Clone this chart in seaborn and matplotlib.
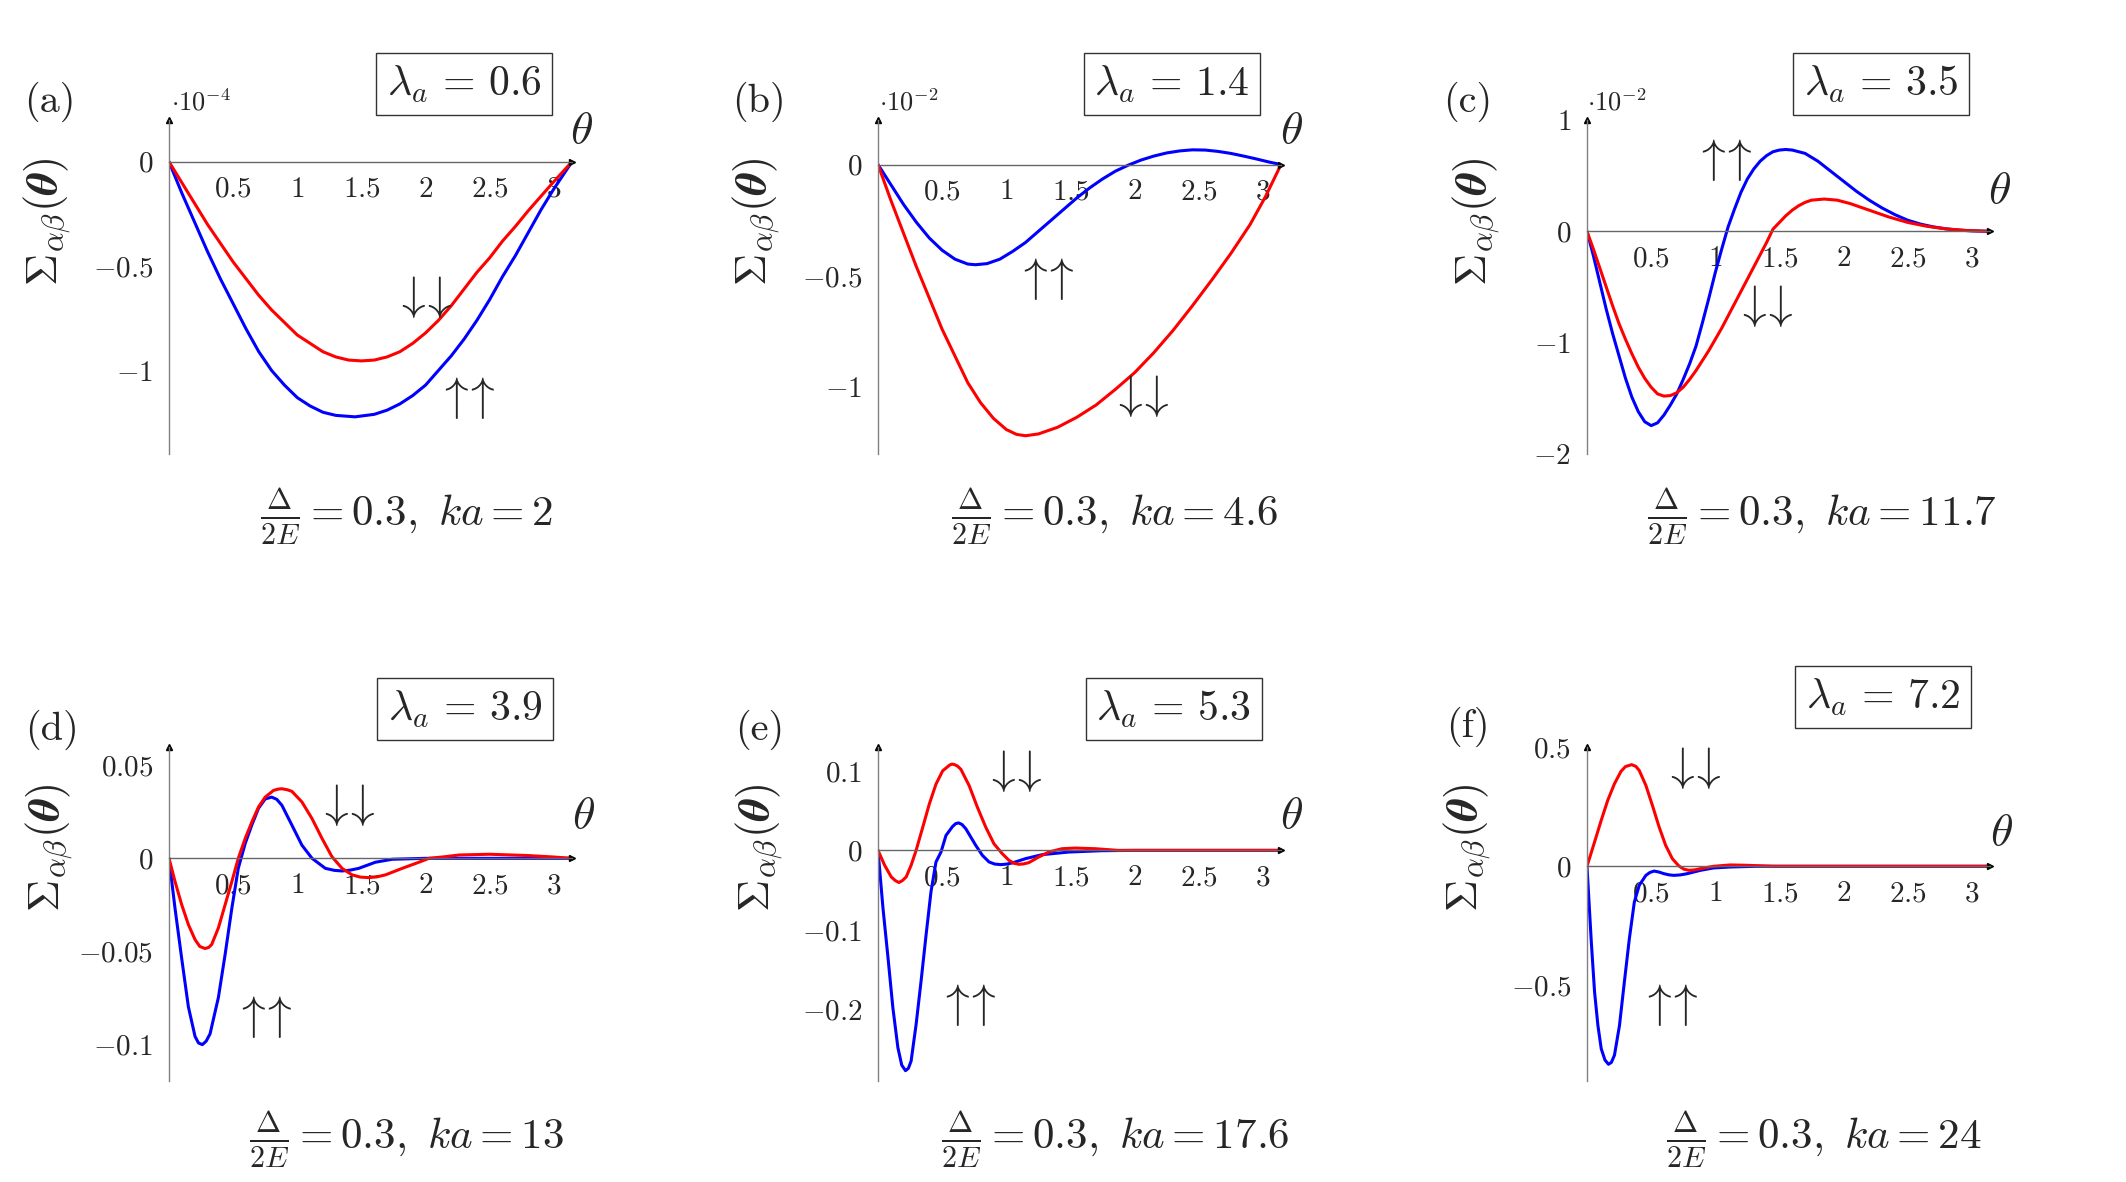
import numpy as np
import matplotlib
matplotlib.use('Agg')
import matplotlib.pyplot as plt
import seaborn as sns

# ---------------- data ----------------
# (a) lambda_a = 0.6, ka = 2, values in units of 1e-4
th_a_up = [0, 0.1, 0.2, 0.3, 0.4, 0.5, 0.6, 0.7, 0.8, 0.9, 1.0, 1.1, 1.2, 1.3, 1.45, 1.6, 1.7,
           1.8, 1.9, 2.0, 2.1, 2.2, 2.3, 2.4, 2.5, 2.6, 2.7, 2.8, 2.9, 3.0, 3.1416]
s_a_up = [0, -0.15, -0.29, -0.43, -0.56, -0.68, -0.80, -0.91, -1.00, -1.07, -1.13, -1.17, -1.20,
          -1.215, -1.222, -1.21, -1.19, -1.16, -1.12, -1.07, -1.00, -0.93, -0.85, -0.76, -0.66,
          -0.55, -0.45, -0.34, -0.23, -0.13, 0]
th_a_dn = [0, 0.1, 0.2, 0.3, 0.4, 0.5, 0.6, 0.7, 0.8, 0.9, 1.0, 1.1, 1.2, 1.3, 1.4, 1.5, 1.6, 1.7,
           1.8, 1.9, 2.0, 2.1, 2.2, 2.3, 2.4, 2.5, 2.6, 2.7, 2.8, 2.9, 3.0, 3.1416]
s_a_dn = [0, -0.10, -0.20, -0.30, -0.39, -0.48, -0.56, -0.64, -0.71, -0.77, -0.83, -0.87, -0.91,
          -0.935, -0.95, -0.954, -0.95, -0.935, -0.91, -0.87, -0.82, -0.76, -0.69, -0.61, -0.53,
          -0.46, -0.38, -0.31, -0.235, -0.165, -0.095, 0]

# (b) lambda_a = 1.4, ka = 4.6, values in units of 1e-2
th_b_up = [0, 0.1, 0.2, 0.3, 0.4, 0.5, 0.6, 0.7, 0.76, 0.85, 0.95, 1.05, 1.15, 1.25, 1.35, 1.45,
           1.55, 1.65, 1.75, 1.85, 1.95, 2.05, 2.15, 2.25, 2.35, 2.45, 2.55, 2.65, 2.75, 2.85,
           2.95, 3.05, 3.1416]
s_b_up = [0, -0.09, -0.18, -0.26, -0.33, -0.385, -0.425, -0.447, -0.45, -0.445, -0.425, -0.39,
          -0.35, -0.30, -0.25, -0.20, -0.15, -0.105, -0.065, -0.03, -0.003, 0.02, 0.038, 0.052,
          0.061, 0.066, 0.065, 0.059, 0.050, 0.038, 0.025, 0.011, 0]
th_b_dn = [0, 0.1, 0.2, 0.3, 0.4, 0.5, 0.6, 0.7, 0.8, 0.9, 1.0, 1.08, 1.15, 1.25, 1.4, 1.55, 1.7,
           1.85, 2.0, 2.15, 2.3, 2.45, 2.6, 2.75, 2.9, 3.02, 3.1416]
s_b_dn = [0, -0.16, -0.31, -0.46, -0.60, -0.74, -0.86, -0.98, -1.07, -1.14, -1.19, -1.212,
          -1.218, -1.21, -1.18, -1.135, -1.08, -1.01, -0.935, -0.845, -0.745, -0.635, -0.52,
          -0.40, -0.27, -0.145, 0]

# (c) lambda_a = 3.5, ka = 11.7, values in units of 1e-2
th_c_up = [0, 0.05, 0.1, 0.15, 0.2, 0.25, 0.3, 0.35, 0.4, 0.45, 0.5, 0.55, 0.6, 0.65, 0.7, 0.75,
           0.8, 0.85, 0.9, 0.95, 1.0, 1.05, 1.1, 1.15, 1.2, 1.25, 1.3, 1.35, 1.4, 1.45, 1.5, 1.55,
           1.6, 1.7, 1.8, 1.9, 2.0, 2.1, 2.2, 2.3, 2.4, 2.5, 2.6, 2.7, 2.8, 2.9, 3.0, 3.1416]
s_c_up = [0, -0.22, -0.46, -0.70, -0.92, -1.12, -1.32, -1.49, -1.62, -1.71, -1.745, -1.72, -1.65,
          -1.56, -1.46, -1.33, -1.19, -1.03, -0.82, -0.60, -0.37, -0.16, 0.04, 0.20, 0.35, 0.47,
          0.56, 0.63, 0.68, 0.715, 0.73, 0.735, 0.73, 0.70, 0.63, 0.54, 0.45, 0.36, 0.28, 0.21,
          0.15, 0.10, 0.065, 0.04, 0.022, 0.011, 0.004, 0]
th_c_dn = [0, 0.05, 0.1, 0.15, 0.2, 0.25, 0.3, 0.35, 0.4, 0.45, 0.5, 0.55, 0.6, 0.65, 0.7, 0.75,
           0.8, 0.85, 0.9, 0.95, 1.0, 1.05, 1.1, 1.15, 1.2, 1.25, 1.3, 1.35, 1.4, 1.45, 1.5, 1.55,
           1.6, 1.65, 1.7, 1.75, 1.85, 1.95, 2.05, 2.2, 2.35, 2.5, 2.65, 2.8, 2.95, 3.1416]
s_c_dn = [0, -0.16, -0.33, -0.50, -0.67, -0.83, -0.97, -1.10, -1.22, -1.32, -1.40, -1.46, -1.48,
          -1.475, -1.45, -1.40, -1.33, -1.25, -1.16, -1.07, -0.97, -0.87, -0.76, -0.65, -0.54,
          -0.43, -0.32, -0.21, -0.10, 0.02, 0.08, 0.14, 0.19, 0.23, 0.26, 0.28, 0.29, 0.28, 0.25,
          0.19, 0.13, 0.08, 0.045, 0.022, 0.008, 0]

# (d) lambda_a = 3.9, ka = 13
th_d_up = [0, 0.047, 0.099, 0.151, 0.203, 0.23, 0.26, 0.29, 0.32, 0.385, 0.4375, 0.49, 0.54,
           0.594, 0.646, 0.698, 0.75, 0.80, 0.84, 0.88, 0.958, 1.036, 1.115, 1.219, 1.29, 1.349,
           1.41, 1.479, 1.609, 1.74, 2.0, 2.5, 3.1416]
s_d_up = [0, -0.027, -0.054, -0.080, -0.096, -0.0995, -0.1004, -0.0985, -0.0946, -0.075,
          -0.0518, -0.0268, -0.0054, 0.008, 0.018, 0.027, 0.032, 0.033, 0.0318, 0.0286, 0.0179,
          0.0071, 0.0, -0.0054, -0.0065, -0.0068, -0.0064, -0.0054, -0.0021, -0.0005, 0, 0, 0]
th_d_dn = [0, 0.047, 0.099, 0.151, 0.203, 0.24, 0.281, 0.31, 0.333, 0.385, 0.4375, 0.49, 0.54,
           0.594, 0.646, 0.698, 0.75, 0.815, 0.85, 0.88, 0.92, 0.958, 1.036, 1.115, 1.193, 1.27,
           1.349, 1.427, 1.49, 1.557, 1.62, 1.688, 1.818, 1.948, 2.026, 2.156, 2.26, 2.5, 2.8,
           3.0, 3.1416]
s_d_dn = [0, -0.0125, -0.025, -0.0357, -0.0438, -0.0475, -0.0486, -0.048, -0.0464, -0.0375,
          -0.025, -0.0125, 0, 0.0107, 0.0196, 0.0277, 0.033, 0.0366, 0.0373, 0.0375, 0.0370,
          0.0361, 0.0304, 0.0214, 0.0107, 0.0009, -0.0054, -0.0089, -0.0101, -0.0104, -0.0100,
          -0.0089, -0.0054, -0.0021, 0, 0.0009, 0.0018, 0.0022, 0.0015, 0.0007, 0]

# (e) lambda_a = 5.3, ka = 17.6
th_e_up = [0, 0.039, 0.078, 0.116, 0.155, 0.185, 0.2145, 0.237, 0.258, 0.297, 0.336, 0.375,
           0.413, 0.452, 0.491, 0.53, 0.581, 0.605, 0.628, 0.655, 0.685, 0.762, 0.814, 0.866,
           0.91, 0.956, 1.0, 1.047, 1.15, 1.279, 1.486, 1.744, 2.0, 3.1416]
s_e_up = [0, -0.073, -0.135, -0.198, -0.248, -0.270, -0.277, -0.274, -0.265, -0.219, -0.164,
          -0.106, -0.0521, -0.0146, -0.0021, 0.0188, 0.030, 0.0336, 0.0346, 0.0325, 0.0271,
          0.0063, -0.0063, -0.0146, -0.0172, -0.0179, -0.0173, -0.0158, -0.0104, -0.0054,
          -0.0021, -0.0004, 0, 0]
th_e_dn = [0, 0.052, 0.103, 0.135, 0.163, 0.19, 0.22, 0.258, 0.297, 0.349, 0.40, 0.452, 0.504,
           0.556, 0.575, 0.594, 0.62, 0.646, 0.711, 0.775, 0.84, 0.904, 0.969, 1.021, 1.06,
           1.098, 1.135, 1.176, 1.253, 1.331, 1.434, 1.537, 1.693, 1.873, 3.1416]
s_e_dn = [0, -0.0188, -0.0333, -0.038, -0.0404, -0.038, -0.0333, -0.0188, 0, 0.0292, 0.0583,
          0.0833, 0.10, 0.107, 0.1085, 0.108, 0.106, 0.102, 0.0813, 0.0542, 0.0292, 0.0083,
          -0.0042, -0.0125, -0.0162, -0.0175, -0.0170, -0.0154, -0.0083, -0.0021, 0.0021,
          0.0029, 0.0021, 0, 0]

# (f) lambda_a = 7.2, ka = 24
th_f_up = [0, 0.0335, 0.059, 0.085, 0.111, 0.14, 0.1675, 0.19, 0.214, 0.253, 0.291, 0.33,
           0.369, 0.407, 0.459, 0.49, 0.523, 0.56, 0.60, 0.64, 0.678, 0.73, 0.781, 0.884, 0.987,
           1.116, 1.322, 3.1416]
s_f_up = [0, -0.317, -0.527, -0.667, -0.765, -0.812, -0.830, -0.822, -0.792, -0.668, -0.486,
          -0.304, -0.150, -0.080, -0.038, -0.026, -0.020, -0.024, -0.031, -0.036, -0.038,
          -0.036, -0.031, -0.017, -0.007, -0.003, 0, 0]
th_f_dn = [0, 0.059, 0.111, 0.162, 0.214, 0.265, 0.30, 0.348, 0.38, 0.407, 0.459, 0.51, 0.562,
           0.613, 0.665, 0.716, 0.755, 0.794, 0.84, 0.884, 0.987, 1.116, 1.245, 1.451, 3.1416]
s_f_dn = [0, 0.102, 0.193, 0.277, 0.346, 0.398, 0.418, 0.426, 0.419, 0.402, 0.339, 0.255, 0.165,
          0.088, 0.032, 0.0014, -0.012, -0.0168, -0.015, -0.0098, 0, 0.0056, 0.0042, 0, 0]

x_ticks = [0.5, 1, 1.5, 2, 2.5, 3]
x_ticklabels = ['0.5', '1', '1.5', '2', '2.5', '3']

lambdas = ['0.6', '1.4', '3.5', '3.9', '5.3', '7.2']
ka_values = ['2', '4.6', '11.7', '13', '17.6', '24']
letters = ['a', 'b', 'c', 'd', 'e', 'f']

y_lims = [(-1.4, 0.2), (-1.3, 0.2), (-2, 1), (-0.12, 0.06), (-0.29, 0.13), (-0.9, 0.5)]
y_ticks = [[-1, -0.5, 0], [-1, -0.5, 0], [-2, -1, 0, 1], [-0.1, -0.05, 0, 0.05],
           [-0.2, -0.1, 0, 0.1], [-0.5, 0, 0.5]]
y_ticklabels = [['-1', '-0.5', '0'], ['-1', '-0.5', '0'], ['-2', '-1', '0', '1'],
                ['-0.1', '-0.05', '0', '0.05'], ['-0.2', '-0.1', '0', '0.1'],
                ['-0.5', '0', '0.5']]
scale_labels = ['-4', '-2', '-2', None, None, None]

curves = [(th_a_up, s_a_up, th_a_dn, s_a_dn), (th_b_up, s_b_up, th_b_dn, s_b_dn),
          (th_c_up, s_c_up, th_c_dn, s_c_dn), (th_d_up, s_d_up, th_d_dn, s_d_dn),
          (th_e_up, s_e_up, th_e_dn, s_e_dn), (th_f_up, s_f_up, th_f_dn, s_f_dn)]

# spin labels, placed in data coordinates of each panel
up_label_pos = [(2.31, -1.13), (1.30, -0.515), (1.06, 0.64), (0.73, -0.0857), (0.69, -0.194), (0.64, -0.58)]
dn_label_pos = [(1.98, -0.65), (2.04, -1.04), (1.38, -0.67), (1.38, 0.0286), (1.05, 0.10), (0.82, 0.41)]

# ---------------- layout (pixels of the 2126x1182 canvas) ----------------
W, H = 2126, 1182
col_left = [169, 878, 1587]
row_top = [120, 747]
ax_w, ax_h = 403, 334

letter_xy = [(50, 102), (759, 102), (1468, 102), (52, 730), (760, 730), (1468, 727)]
lambda_xy = [(464, 84), (1172, 84), (1881, 84), (465, 709), (1174, 709), (1883, 697)]
caption_xy = [(407, 517), (1115, 517), (1822, 517), (407, 1140), (1115, 1140), (1824, 1140)]
ylabel_xy = [(48, 222), (757, 222), (1477, 222), (50, 848), (760, 848), (1468, 848)]
theta_xy = [(582, 131), (1292, 131), (1999, 191), (584, 816), (1292, 816), (2001, 833)]
scale_xy = [(171, 102), (879, 102), (1587, 102)]

sns.set_style('white')
plt.rcParams['font.family'] = ['serif']
plt.rcParams['font.serif'] = ['cmr10', 'DejaVu Serif']
plt.rcParams['mathtext.fontset'] = 'cm'
plt.rcParams['axes.formatter.use_mathtext'] = True


def fx(x):
    return x / W


def fy(y):
    return 1 - y / H


fig = plt.figure(figsize=(W / 100, H / 100), dpi=100)

for i in range(6):
    r, c = divmod(i, 3)
    left, top = col_left[c], row_top[r]
    ax = fig.add_axes([fx(left), fy(top + ax_h), ax_w / W, ax_h / H])
    th_up, s_up, th_dn, s_dn = curves[i]
    sns.lineplot(x=th_up, y=s_up, ax=ax, color='#0000ff', lw=2.2, estimator=None, sort=False)
    sns.lineplot(x=th_dn, y=s_dn, ax=ax, color='#ff0000', lw=2.2, estimator=None, sort=False)
    ax.set_xlim(0, np.pi)
    ax.set_ylim(*y_lims[i])
    ax.set_xlabel('')
    ax.set_ylabel('')

    # pgfplots-like "axis lines = middle"
    for s in ['top', 'right']:
        ax.spines[s].set_visible(False)
    ax.spines['bottom'].set_position(('data', 0))
    ax.spines['left'].set_position(('data', 0))
    ax.spines['bottom'].set_color('#666666')
    ax.spines['left'].set_color('#808080')
    ax.spines['bottom'].set_linewidth(1.0)
    ax.spines['left'].set_linewidth(1.0)
    ax.plot(1, 0, marker='>', color='k', ms=5, transform=ax.get_yaxis_transform(), clip_on=False)
    ax.plot(0, 1, marker='^', color='k', ms=5, transform=ax.get_xaxis_transform(), clip_on=False)

    ax.set_xticks(x_ticks)
    ax.set_xticklabels(['$%s$' % t for t in x_ticklabels])
    ax.set_yticks(y_ticks[i])
    ax.set_yticklabels(['$%s$' % t for t in y_ticklabels[i]])
    ax.tick_params(axis='both', direction='inout', length=7, width=0.8, color='#aaaaaa',
                   labelsize=21)
    ax.tick_params(axis='x', pad=7)
    ax.tick_params(axis='y', pad=8)

    ax.text(*up_label_pos[i], r'$\uparrow\!\!\uparrow$', fontsize=34, ha='center', va='center')
    ax.text(*dn_label_pos[i], r'$\downarrow\!\!\downarrow$', fontsize=34, ha='center', va='center')

    lx, ly = letter_xy[i]
    fig.text(fx(lx), fy(ly), '(%s)' % letters[i], fontsize=29, ha='center', va='center')
    bx, by = lambda_xy[i]
    fig.text(fx(bx), fy(by), r'$\lambda_a \,=\, %s$' % lambdas[i], fontsize=30, ha='center',
             va='center', bbox=dict(boxstyle='square,pad=0.25', fc='white', ec='#333333', lw=1.0))
    cx, cy = caption_xy[i]
    fig.text(fx(cx), fy(cy), r'$\frac{\Delta}{2E} = 0.3,\ ka = %s$' % ka_values[i],
             fontsize=31, ha='center', va='center')
    yx, yy = ylabel_xy[i]
    fig.text(fx(yx), fy(yy), r'$\Sigma_{\alpha\beta}(\boldsymbol{\theta})$', fontsize=32,
             rotation=90, ha='center', va='center')
    tx, ty = theta_xy[i]
    fig.text(fx(tx), fy(ty), r'$\theta$', fontsize=33, ha='center', va='center')
    if scale_labels[i] is not None:
        sx, sy = scale_xy[i]
        fig.text(fx(sx), fy(sy), r'$\cdot 10^{%s}$' % scale_labels[i], fontsize=19,
                 ha='left', va='center')

fig.savefig('out.png', dpi=100)
